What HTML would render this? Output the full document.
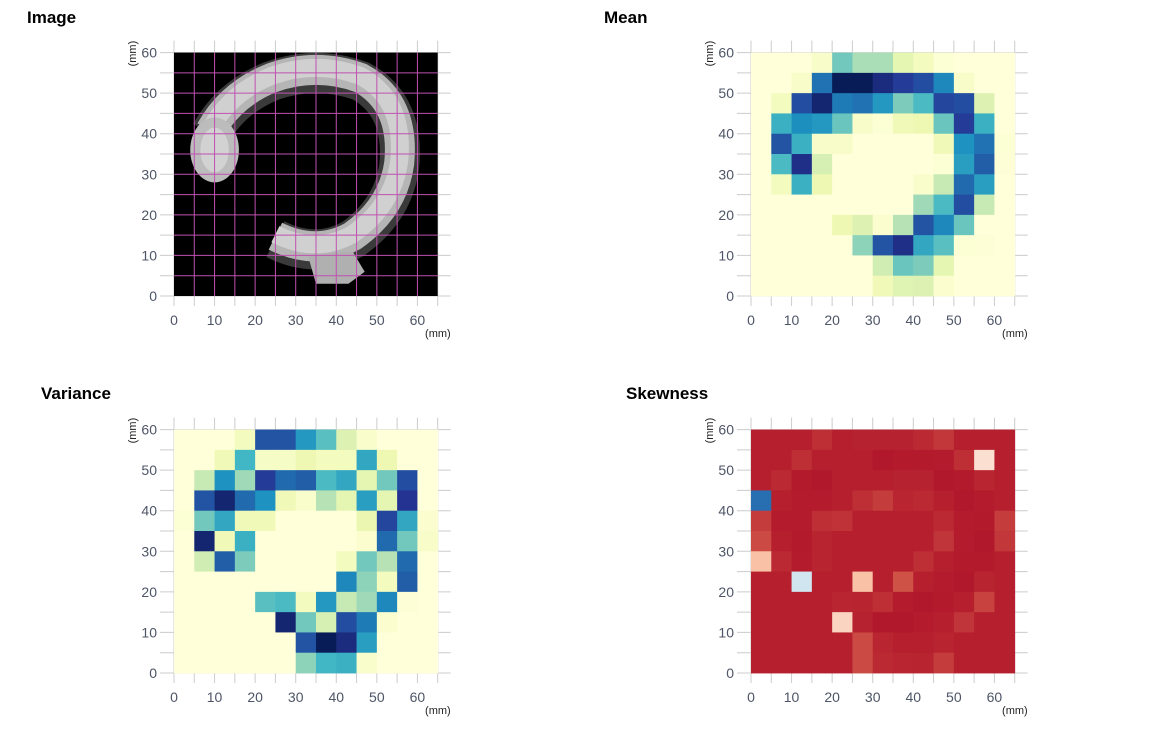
<!DOCTYPE html>
<html><head><meta charset="utf-8"><style>
html,body{margin:0;padding:0;background:#fff;}
svg{display:block;font-family:"Liberation Sans",Arial,sans-serif;}
</style></head><body>
<svg id="root" width="1157" height="754" viewBox="0 0 1157 754">
<text x="27" y="23" font-size="17" font-weight="bold" fill="#000">Image</text>
<text x="604" y="23" font-size="17" font-weight="bold" fill="#000">Mean</text>
<text x="41" y="399" font-size="17" font-weight="bold" fill="#000">Variance</text>
<text x="626" y="399" font-size="17" font-weight="bold" fill="#000">Skewness</text>
</svg>
<script>
const xTicks=[0,10,20,30,40,50,60];
const yTicks=[0,10,20,30,40,50,60];
const meanVals=[
[0,0,0,0.05,0.4,0.3,0.3,0.15,0.08,0.02,0,0,0],
[0,0,0.05,0.7,1.0,1.0,0.92,0.85,0.8,0.65,0.05,0,0],
[0,0.08,0.8,0.95,0.68,0.7,0.6,0.38,0.48,0.82,0.8,0.18,0],
[0,0.52,0.63,0.6,0.42,0.05,0.02,0.1,0.12,0.42,0.85,0.52,0],
[0,0.78,0.52,0.05,0.05,0,0,0,0,0.1,0.62,0.7,0.02],
[0,0.48,0.9,0.2,0,0,0,0,0,0.02,0.58,0.75,0.01],
[0,0.08,0.52,0.12,0,0,0,0,0.04,0.25,0.72,0.58,0],
[0,0,0,0,0,0,0,0,0.32,0.48,0.8,0.25,0],
[0,0,0,0,0.12,0.18,0.03,0.28,0.78,0.65,0.42,0,0],
[0,0,0,0,0,0.35,0.78,0.9,0.55,0.45,0.02,0.01,0],
[0,0,0,0,0,0,0.22,0.42,0.38,0.15,0,0,0],
[0,0,0,0,0,0,0.1,0.17,0.18,0.03,0,0,0]];
const varVals=[
[0,0,0,0.08,0.78,0.78,0.6,0.45,0.18,0.04,0,0,0],
[0,0,0.1,0.5,0.06,0.06,0.12,0.08,0.08,0.55,0.12,0,0],
[0,0.25,0.62,0.32,0.85,0.72,0.75,0.48,0.55,0.15,0.4,0.8,0],
[0,0.78,0.95,0.72,0.62,0.1,0.04,0.28,0.15,0.58,0.15,0.88,0],
[0.02,0.4,0.55,0.1,0.1,0,0,0,0,0.13,0.82,0.55,0.03],
[0,0.95,0.1,0.52,0,0,0,0,0,0.03,0.72,0.4,0.05],
[0,0.22,0.75,0.38,0,0,0,0,0.08,0.4,0.28,0.72,0],
[0,0,0,0,0,0,0,0,0.65,0.35,0.08,0.75,0],
[0,0,0,0,0.45,0.48,0.08,0.6,0.25,0.32,0.65,0.01,0],
[0,0,0,0,0,0.95,0.4,0.2,0.8,0.68,0.03,0,0],
[0,0,0,0,0,0,0.78,1.0,0.92,0.58,0,0,0],
[0,0,0,0,0,0,0.35,0.5,0.52,0.04,0,0,0]];
const skewVals=[
[-.95,-.95,-.95,-.85,-.95,-.93,-.93,-.93,-.88,-.78,-.95,-.95,-.95],
[-.95,-.95,-.85,-.95,-.95,-.95,-1,-.98,-.98,-.97,-.85,-.03,-.95],
[-.95,-.88,-.98,-1,-.95,-.95,-.95,-.93,-.93,-1,-.98,-.9,-.95],
[0.95,-.95,-.97,-.97,-.95,-.85,-.75,-.9,-.88,-.95,-1,-.97,-.95],
[-.75,-.97,-.97,-.85,-.82,-.95,-.95,-.95,-.95,-.88,-.97,-.98,-.75],
[-.65,-.95,-.98,-.92,-.95,-.95,-.95,-.95,-.95,-.8,-.97,-1,-.78],
[-.2,-.88,-.97,-.92,-.95,-.95,-.95,-.95,-.85,-.95,-.98,-.98,-.95],
[-.95,-.95,0.15,-.95,-.95,-.2,-.95,-.6,-.95,-.97,-1,-.92,-.95],
[-.95,-.95,-.95,-.95,-.9,-.92,-.85,-.97,-1,-.98,-.95,-.7,-.95],
[-.95,-.95,-.95,-.95,-.1,-.93,-1,-1,-.97,-.95,-.8,-.95,-.95],
[-.95,-.95,-.95,-.95,-.95,-.65,-.9,-.95,-.95,-.92,-.95,-.95,-.95],
[-.95,-.95,-.95,-.95,-.95,-.65,-.88,-.9,-.92,-.75,-.95,-.95,-.95]];

const NS='http://www.w3.org/2000/svg';
const root=document.getElementById('root');
const K=4.057;
function mk(tag,attrs,parent){const e=document.createElementNS(NS,tag);for(const k in attrs)e.setAttribute(k,attrs[k]);(parent||root).appendChild(e);return e;}
function hex(h){return [parseInt(h.slice(1,3),16),parseInt(h.slice(3,5),16),parseInt(h.slice(5,7),16)];}
function ramp(stops,v){
  if(v<=stops[0][0])return stops[0][1];
  for(let i=1;i<stops.length;i++){if(v<=stops[i][0]){const a=stops[i-1],b=stops[i];const t=(v-a[0])/(b[0]-a[0]);const c1=hex(a[1]),c2=hex(b[1]);return 'rgb('+c1.map((c,j)=>Math.round(c+(c2[j]-c)*t)).join(',')+')';}}
  return stops[stops.length-1][1];
}
const ylgnbu=[[0,'#ffffd9'],[.125,'#edf8b1'],[.25,'#c7e9b4'],[.375,'#7fcdbb'],[.5,'#41b6c4'],[.625,'#1d91c0'],[.75,'#225ea8'],[.875,'#253494'],[1,'#081d58']];
const rdbu=[[-1,'#b2182b'],[-0.5,'#d6604d'],[-0.2,'#f9c2a6'],[0,'#fbe5d9'],[0.15,'#d1e5f0'],[0.5,'#92c5de'],[0.75,'#4393c3'],[1,'#2166ac']];

function axes(x0,y0,name){
  const sx=v=>x0+v*K, sy=v=>y0-v*K;
  const g=mk('g',{});
  
  
  for(let v=0;v<=65;v+=5){mk('line',{x1:sx(v),x2:sx(v),y1:sy(60)-12,y2:y0+10,stroke:'#cccccc','stroke-width':1},g);}
  for(let v=0;v<=60;v+=5){mk('line',{x1:x0-14,x2:sx(65)+13,y1:sy(v),y2:sy(v),stroke:'#cccccc','stroke-width':1},g);}
  const lab=mk('g',{});
  
  
  xTicks.forEach(v=>{const t=mk('text',{x:sx(v),y:y0+29,'font-size':14,fill:'#4d5566','text-anchor':'middle'},lab);t.textContent=v;
    });
  yTicks.forEach(v=>{const t=mk('text',{x:x0-17,y:sy(v)+5,'font-size':14,fill:'#4d5566','text-anchor':'end'},lab);t.textContent=v;
    });
  const xt=mk('text',{x:sx(65)+13,y:y0+41,'font-size':11,fill:'#222','text-anchor':'end'},lab);xt.textContent='(mm)';
  
  const yt=mk('text',{x:0,y:0,'font-size':11,fill:'#222','text-anchor':'middle',transform:'translate('+(x0-38)+','+(sy(60)+1)+') rotate(-90)'},lab);yt.textContent='(mm)';
  
  return [sx,sy];
}
function heat(x0,y0,vals,stops,name){
  const [sx,sy]=axes(x0,y0,name);
  const g=mk('g',{});
  
  
  vals.forEach((row,r)=>row.forEach((v,c)=>{
    const top=60-r*5;
    const x=sx(c*5), y=sy(top), w=sx(c*5+5)-x, h=sy(top-5)-y;
    const rc=mk('rect',{x:x,y:y,width:w+0.4,height:h+0.4,fill:ramp(stops,v)},g);
    
    
  }));
}
// Image panel
(function(){
  const x0=174,y0=296;
  const [sx,sy]=axes(x0,y0,'image');
  const g=mk('g',{});
  
  
  mk('rect',{x:sx(0),y:sy(60),width:65*K,height:60*K,fill:'#000'},g);
  const P=(a,b)=>sx(a).toFixed(1)+','+sy(b).toFixed(1);
  const ring='M'+P(25,14)+' Q'+P(35,9)+' '+P(44,14)+' Q'+P(54,21)+' '+P(55.5,32)+' Q'+P(57,47)+' '+P(46,53)+' Q'+P(35,57)+' '+P(24,53)+' Q'+P(14,49)+' '+P(9,40);
  mk('path',{d:ring,fill:'none',stroke:'#3a3a3a','stroke-width':40},g);
  mk('path',{d:ring,fill:'none',stroke:'#b5b5b5','stroke-width':30,transform:'translate(0,-3)'},g);
  mk('path',{d:ring,fill:'none',stroke:'#d0d0d0','stroke-width':18,transform:'translate(0,-5)'},g);
  mk('ellipse',{cx:sx(10),cy:sy(36),rx:6*K,ry:8*K,fill:'#bcbcbc'},g);
  mk('ellipse',{cx:sx(10),cy:sy(36),rx:3.5*K,ry:5.5*K,fill:'#d2d2d2'},g);
  mk('path',{d:'M'+P(33,10)+' L'+P(35,3)+' L'+P(43,3)+' L'+P(47,6)+' L'+P(44,11)+'Z',fill:'#b0b0b0'},g);
  const m=mk('g',{stroke:'#c050b0','stroke-width':1},g);
  for(let v=5;v<=60;v+=5)mk('line',{x1:sx(v),x2:sx(v),y1:sy(60),y2:sy(0)},m);
  for(let v=5;v<=55;v+=5)mk('line',{x1:sx(0),x2:sx(65),y1:sy(v),y2:sy(v)},m);
})();
heat(751,296,meanVals,ylgnbu,'mean');
heat(174,673,varVals,ylgnbu,'variance');
heat(751,673,skewVals,rdbu,'skewness');
</script>
</body></html>
